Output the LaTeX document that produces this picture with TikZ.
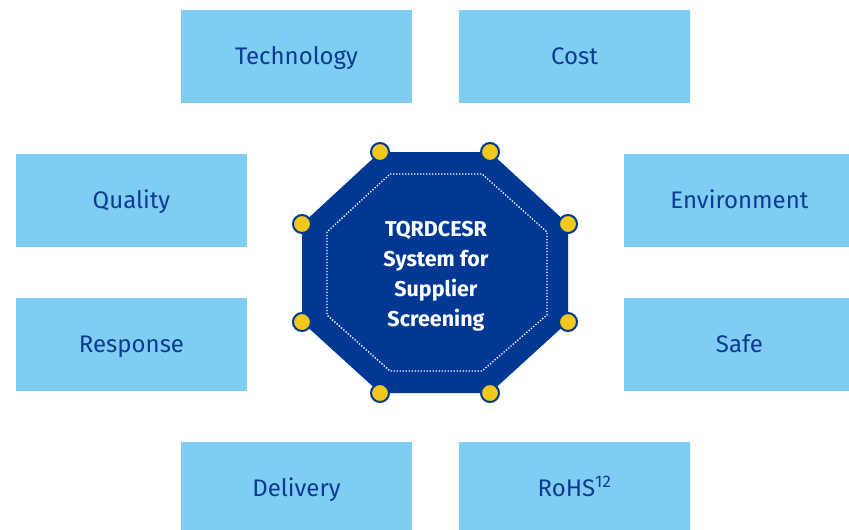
\documentclass[tikz,border=0pt]{standalone}
\usepackage{fontspec}
\setmainfont{Fira Sans}
\usetikzlibrary{positioning}
\definecolor{boxblue}{HTML}{7FCDF2}
\definecolor{textblue}{HTML}{0B3C93}
\definecolor{octblue}{HTML}{003893}
\definecolor{dotyellow}{HTML}{F2C81C}

\begin{document}
\begin{tikzpicture}[x=1pt, y=-1pt,
  factor/.style={fill=boxblue, minimum width=231pt, minimum height=93pt,
    inner sep=0pt, text height=16.8pt, text depth=0pt, text=textblue,
    font=\fontsize{24}{28}\selectfont},
  pin/.style={circle, fill=dotyellow, draw=octblue, line width=2pt,
    minimum size=18pt, inner sep=0pt},
  core/.style={align=center, text=white, font=\bfseries\fontsize{21.5}{30}\selectfont}
]
\useasboundingbox (0,0) rectangle (849,530);
\clip (0,0) rectangle (849,530);

\node[factor] (tech)  at (296.5,56.5)  {Technology};
\node[factor] (cost)  at (574.5,56.5)  {Cost};
\node[factor] (qual)  at (131.5,200.5) {Quality};
\node[factor] (env)   at (739.5,200.5) {Environment};
\node[factor] (resp)  at (131.5,344.5) {Response};
\node[factor] (safe)  at (739.5,344.5) {Safe};
\node[factor] (deliv) at (296.5,488.5) {Delivery};
\node[factor] (rohs)  at (574.5,488.5) {RoHS\textsuperscript{12}};

\coordinate (c1) at (380,152);
\coordinate (c2) at (490,152);
\coordinate (c3) at (568,224);
\coordinate (c4) at (568,322);
\coordinate (c5) at (490,393);
\coordinate (c6) at (380,393);
\coordinate (c7) at (302,322);
\coordinate (c8) at (302,224);
\fill[octblue] (c1) -- (c2) -- (c3) -- (c4) -- (c5) -- (c6) -- (c7) -- (c8) -- cycle;
\draw[white, line width=1.3pt, dash pattern=on 1.3pt off 1.7pt]
  (390,174) -- (482,174) -- (547,232) -- (547,315) -- (482,371) -- (390,371)
  -- (327,315) -- (327,232) -- cycle;
\node[core] (sys) at (436,276) {TQRDCESR\\System for\\Supplier\\Screening};

\foreach \c in {c1,c2,c3,c4,c5,c6,c7,c8}
  \node[pin] (pin-\c) at (\c) {};
\end{tikzpicture}
\end{document}
